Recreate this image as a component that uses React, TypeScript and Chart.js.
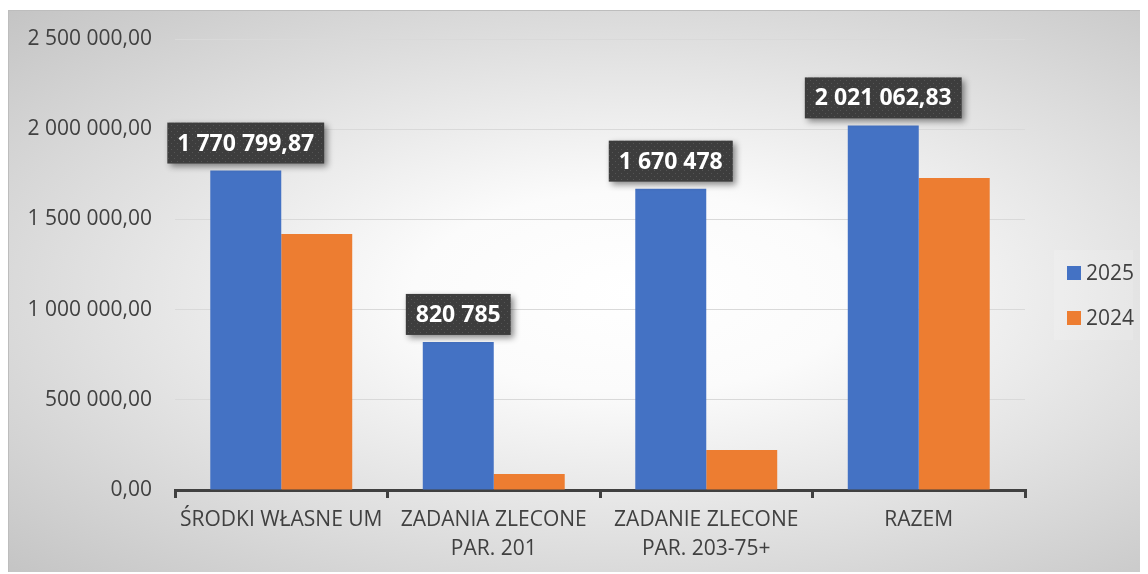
import React, { useEffect, useRef } from 'react';
import { Chart, registerables } from 'chart.js';

Chart.register(...registerables);

const categories: string[][] = [
  ['ŚRODKI WŁASNE UM'],
  ['ZADANIA ZLECONE', 'PAR. 201'],
  ['ZADANIE ZLECONE', 'PAR. 203-75+'],
  ['RAZEM'],
];
const seriesNames = ['2025', '2024'];
const values2025 = [1770799.87, 820785, 1670478, 2021062.83];
const values2024 = [1419000, 88700, 221700, 1729400];
const labels2025 = ['1 770 799,87', '820 785', '1 670 478', '2 021 062,83'];
const seriesColors = ['#4472C4', '#ED7D31'];
const yMin = 0;
const yMax = 2500000;
const yStep = 500000;

const FONT = '"Open Sans", sans-serif';
const TEXT = '#404040';

function formatPl(n: number): string {
  const [int, dec] = n.toFixed(2).split('.');
  const grouped = int.replace(/\B(?=(\d{3})+(?!\d))/g, ' ');
  return grouped + ',' + dec;
}

function makePattern(ctx: CanvasRenderingContext2D) {
  const c = document.createElement('canvas');
  c.width = 6;
  c.height = 6;
  const p = c.getContext('2d')!;
  p.fillStyle = '#3d3d3d';
  p.fillRect(0, 0, 6, 6);
  p.fillStyle = '#555555';
  p.fillRect(1, 1, 1, 1);
  p.fillRect(4, 4, 1, 1);
  return ctx.createPattern(c, 'repeat');
}

const dataLabelPlugin = {
  id: 'boxLabels',
  afterDatasetsDraw(chart: any) {
    const ctx = chart.ctx as CanvasRenderingContext2D;
    const meta = chart.getDatasetMeta(0);
    const pattern = makePattern(ctx);
    ctx.save();
    ctx.font = `bold 23px ${FONT}`;
    meta.data.forEach((bar: any, i: number) => {
      const text = labels2025[i];
      const w = ctx.measureText(text).width + 20;
      const h = 41;
      const x = bar.x - w / 2;
      const y = bar.y - 7 - h;
      ctx.save();
      ctx.shadowColor = 'rgba(0,0,0,0.45)';
      ctx.shadowBlur = 6;
      ctx.shadowOffsetX = 3;
      ctx.shadowOffsetY = 3;
      ctx.fillStyle = pattern || '#404040';
      ctx.fillRect(x, y, w, h);
      ctx.restore();
      ctx.fillStyle = '#ffffff';
      ctx.textAlign = 'center';
      ctx.textBaseline = 'middle';
      ctx.fillText(text, bar.x, y + h / 2 + 1);
    });
    ctx.restore();
  },
};

const legendPlugin = {
  id: 'customLegend',
  afterDraw(chart: any) {
    const ctx = chart.ctx as CanvasRenderingContext2D;
    ctx.save();
    ctx.fillStyle = 'rgba(255,255,255,0.14)';
    ctx.fillRect(1046, 240, 79, 90);
    ctx.font = `21px ${FONT}`;
    ctx.textBaseline = 'middle';
    ctx.textAlign = 'left';
    seriesNames.forEach((name, i) => {
      const cy = 263 + i * 45;
      ctx.fillStyle = seriesColors[i];
      ctx.fillRect(1059, cy - 7, 14, 14);
      ctx.fillStyle = TEXT;
      ctx.fillText(name, 1078, cy + 1);
    });
    ctx.restore();
  },
};

export default function App() {
  const ref = useRef<HTMLCanvasElement | null>(null);
  useEffect(() => {
    if (!ref.current) return;
    const chart = new Chart(ref.current, {
      type: 'bar',
      data: {
        labels: categories,
        datasets: [
          { label: seriesNames[0], data: values2025, backgroundColor: seriesColors[0] },
          { label: seriesNames[1], data: values2024, backgroundColor: seriesColors[1] },
        ],
      },
      options: {
        animation: false,
        responsive: false,
        devicePixelRatio: 1,
        datasets: { bar: { categoryPercentage: 0.668, barPercentage: 1 } },
        layout: { padding: { top: 29, right: 123, bottom: 0, left: 0 } },
        plugins: { legend: { display: false }, tooltip: { enabled: false } },
        scales: {
          x: {
            afterFit: (s: any) => {
              s.height = 84;
            },
            grid: {
              display: true,
              drawOnChartArea: false,
              drawTicks: true,
              tickLength: 8,
              color: TEXT,
              lineWidth: 3,
              offset: true,
            },
            border: { display: true, color: TEXT, width: 3 },
            ticks: {
              color: TEXT,
              font: { family: FONT, size: 21, lineHeight: 1.38 },
              padding: 8,
              maxRotation: 0,
              autoSkip: false,
            },
          },
          y: {
            min: yMin,
            max: yMax,
            afterFit: (s: any) => {
              s.width = 167;
              s.paddingTop = 0;
              s.paddingBottom = 0;
            },
            grid: { color: '#d9d9d9', lineWidth: 1, drawTicks: false },
            border: { display: false },
            ticks: {
              stepSize: yStep,
              color: TEXT,
              font: { family: FONT, size: 21 },
              padding: 23,
              callback: (v: any) => formatPl(Number(v)),
            },
          },
        },
      },
      plugins: [dataLabelPlugin, legendPlugin],
    });
    return () => chart.destroy();
  }, []);

  return (
    <div
      style={{
        position: 'relative',
        top: 2,
        width: 1140,
        height: 564,
        background:
          'radial-gradient(ellipse farthest-corner at 55% 50%, #ffffff 0%, #fbfbfb 25%, #c4c4c4 100%)',
        boxShadow: 'inset 0 1px 0 #bdbdbd, inset 1px 0 0 #bdbdbd',
      }}
    >
      <canvas ref={ref} width={1140} height={564} style={{ display: 'block' }} />
    </div>
  );
}
